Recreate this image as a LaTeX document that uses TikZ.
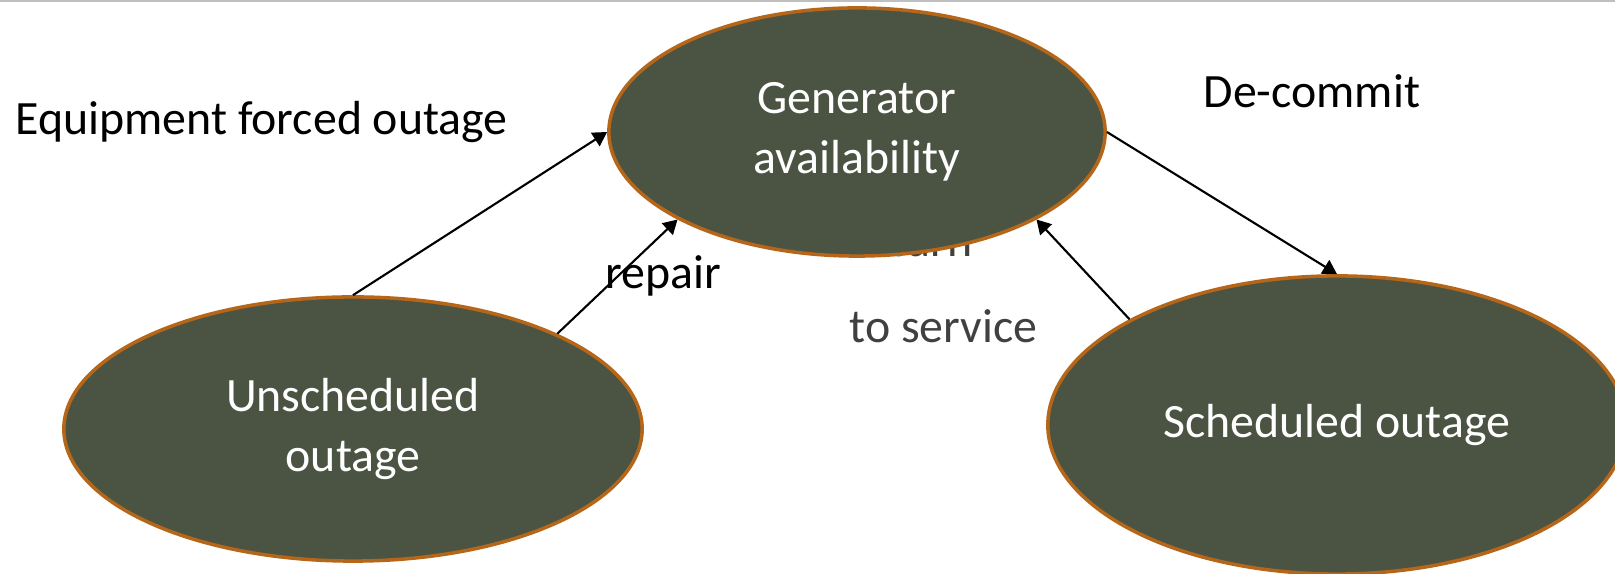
\documentclass[tikz,border=0pt]{standalone}
\usepackage{fontspec}
\setmainfont{Carlito}
\usepackage{tikz}
\usetikzlibrary{shapes.geometric,arrows.meta}
\definecolor{statefill}{RGB}{75,84,67}
\definecolor{stateedge}{RGB}{182,102,24}
\def\statenode{\node[ellipse,draw=stateedge,line width=1pt,fill=statefill,text=white,inner sep=0pt,align=center]}
\def\labelnode{\node[anchor=base west,inner sep=0pt]}

\begin{document}
\begin{tikzpicture}[x=0.01cm,y=-0.01cm,>={Triangle[length=4pt,width=4.5pt]},font=\fontsize{13.6}{17}\selectfont]
\useasboundingbox (0,0) rectangle (1615,574);
\draw[black!25,line width=0.6pt] (0,1) -- (1615,1);
\labelnode[text=black!75] (ret) at (849,257) {return};
\labelnode[text=black!75] (svc) at (849,343) {to service};
\statenode[minimum width=4.96cm,minimum height=2.48cm] (avail) at (857,132) {Generator\\availability};
\statenode[minimum width=5.78cm,minimum height=2.64cm] (unsched) at (353,429) {Unscheduled\\outage};
\statenode[minimum width=5.78cm,minimum height=2.98cm] (sched) at (1337,425) {Scheduled outage};
\labelnode (forced) at (15,135) {Equipment forced outage};
\labelnode (decommit) at (1203,108) {De-commit};
\labelnode (repair) at (605,289) {repair};
\draw[->,line width=0.6pt] (unsched.90) -- (avail.180);
\draw[->,line width=0.6pt] (unsched.25) -- (avail.206);
\draw[->,line width=0.6pt] (sched.153) -- (avail.334);
\draw[->,line width=0.6pt] (avail.0) -- (sched.90);
\end{tikzpicture}
\end{document}
